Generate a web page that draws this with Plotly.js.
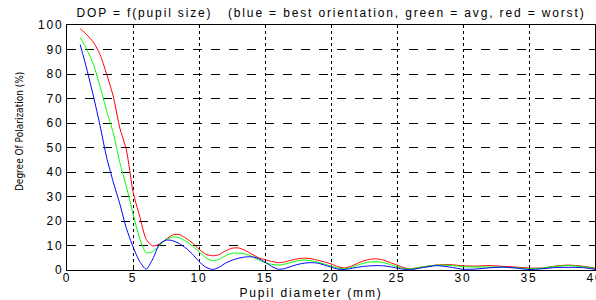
<!DOCTYPE html>
<html><head><meta charset="utf-8">
<script src="https://cdn.plot.ly/plotly-3.0.1.min.js"></script>
<style>
html,body{margin:0;padding:0;background:#fff}
.main-svg text{letter-spacing:1.85px}
.annotation[data-index="2"] text{letter-spacing:0px}
</style>
</head><body>
<div id="chart" style="width:596px;height:300px"></div>
<script>
const xPupil = [1,1.5,2,2.5,3,3.5,4,4.5,5,5.5,6,6.5,7,7.5,8,8.5,9,9.5,10,10.5,11,11.5,12,12.5,13,13.5,14,14.5,15,15.5,16,16.5,17,17.5,18,18.5,19,19.5,20,20.5,21,21.5,22,22.5,23,23.5,24,24.5,25,25.5,26,27,28,29,30,31,32,33,34,35,36,37,38,39,40];
const redWorst = [98.5,96,93,88,80,71,58,49,32,22,12.5,9.8,10.5,12.5,14.3,14.5,13,11,8.5,6.5,5.8,6.2,7.8,8.9,9,8,6.5,5,4.2,3.5,3,3.3,4,4.6,4.8,4.6,4,3.3,2.5,1.4,0.8,1.5,2.7,3.8,4.4,4.5,4,3,2,1,0.5,1.3,2,2.2,1.7,1.6,1.8,1.5,1.2,0.8,0.8,1.6,2,1.6,0.8];
const greenAvg = [95,90,84,75,65,56,44,34,23,13,7,7.5,10,12.3,13.5,13.2,11.8,9.8,7.5,5,3.8,4.3,5.8,6.8,6.9,6.5,5.5,4.2,3,2.3,2,2.4,3.1,3.8,4,3.8,3.2,2.4,1.6,0.8,0.5,1,2,2.8,3.3,3.3,3,2.2,1.3,0.6,0.4,1.3,2,1.9,1.4,1.2,1.2,1.1,0.9,0.5,0.8,1.5,1.8,1.4,0.6];
const blueBest = [92,82,71,59,46,36,27,17,9.5,3.5,0.3,4.5,10.5,12.2,12,10.8,9,6.5,3.5,1.2,0.2,1,2.8,4,4.8,5.3,5.4,4.7,3.2,1.5,0.3,0.6,1.5,2.3,2.8,3,2.8,2,1.2,0.4,0.2,0.6,1.1,1.5,1.7,1.8,1.7,1.3,0.8,0.3,0.1,1,1.8,1.2,0.3,0.4,0.9,1.2,0.8,0.2,0.5,1,1.1,1,0.3];
const xTicks = [0,5,10,15,20,25,30,35,40];
const yTicks = [0,10,20,30,40,50,60,70,80,90,100];
const titleText = "DOP = f(pupil size) \u00a0 (blue = best orientation, green = avg, red = worst)";
const xLabel = "Pupil diameter (mm)";
const yLabel = "Degree Of Polarization (%)";

const mk = (y, c) => ({x: xPupil, y: y, type: 'scatter', mode: 'lines',
  line: {color: c, width: 1, shape: 'spline', smoothing: 0.6}, showlegend: false});
const data = [mk(redWorst, '#ff0000'), mk(greenAvg, '#00ff00'), mk(blueBest, '#0000ff')];

const font = {family: 'Liberation Sans, Arial, sans-serif', size: 12, color: '#000'};
const layout = {
  width: 596, height: 300,
  margin: {l: 67, r: 1, t: 25, b: 30},
  paper_bgcolor: '#fff', plot_bgcolor: '#fff',
  font: font,
  xaxis: {range: [0, 40], tickvals: xTicks, ticktext: xTicks.map(String),
    showgrid: true, gridcolor: '#000', griddash: 'dot', gridwidth: 1,
    showline: true, linecolor: '#000', linewidth: 1, mirror: true,
    ticks: 'inside', ticklen: 3, tickcolor: '#000', zeroline: false,
    ticklabeloverflow: 'allow', ticklabelstandoff: -3,
    tickfont: font, fixedrange: true},
  yaxis: {range: [0, 100], tickvals: yTicks, ticktext: yTicks.map(String),
    showgrid: true, gridcolor: '#000', griddash: 'dash', gridwidth: 1,
    showline: true, linecolor: '#000', linewidth: 1, mirror: true,
    ticks: 'inside', ticklen: 3, tickcolor: '#000', zeroline: false,
    ticklabeloverflow: 'allow',
    tickfont: font, fixedrange: true},
  annotations: [
    {text: titleText, xref: 'paper', yref: 'paper', x: 0.5, y: 1, yshift: 12,
     showarrow: false, xanchor: 'center', yanchor: 'middle', font: font},
    {text: xLabel, xref: 'paper', yref: 'paper', x: 0.463, y: 0, yshift: -23,
     showarrow: false, xanchor: 'center', yanchor: 'middle', font: font},
    {text: yLabel, xref: 'paper', yref: 'paper', x: 0, xshift: -48, y: 0.563,
     showarrow: false, xanchor: 'center', yanchor: 'middle', textangle: -90,
     font: {family: 'Liberation Sans Narrow, DejaVu Sans Condensed, Arial Narrow, sans-serif', size: 10, color: '#000'}}
  ]
};
Plotly.newPlot('chart', data, layout, {displayModeBar: false, staticPlot: true});
</script>
</body></html>
